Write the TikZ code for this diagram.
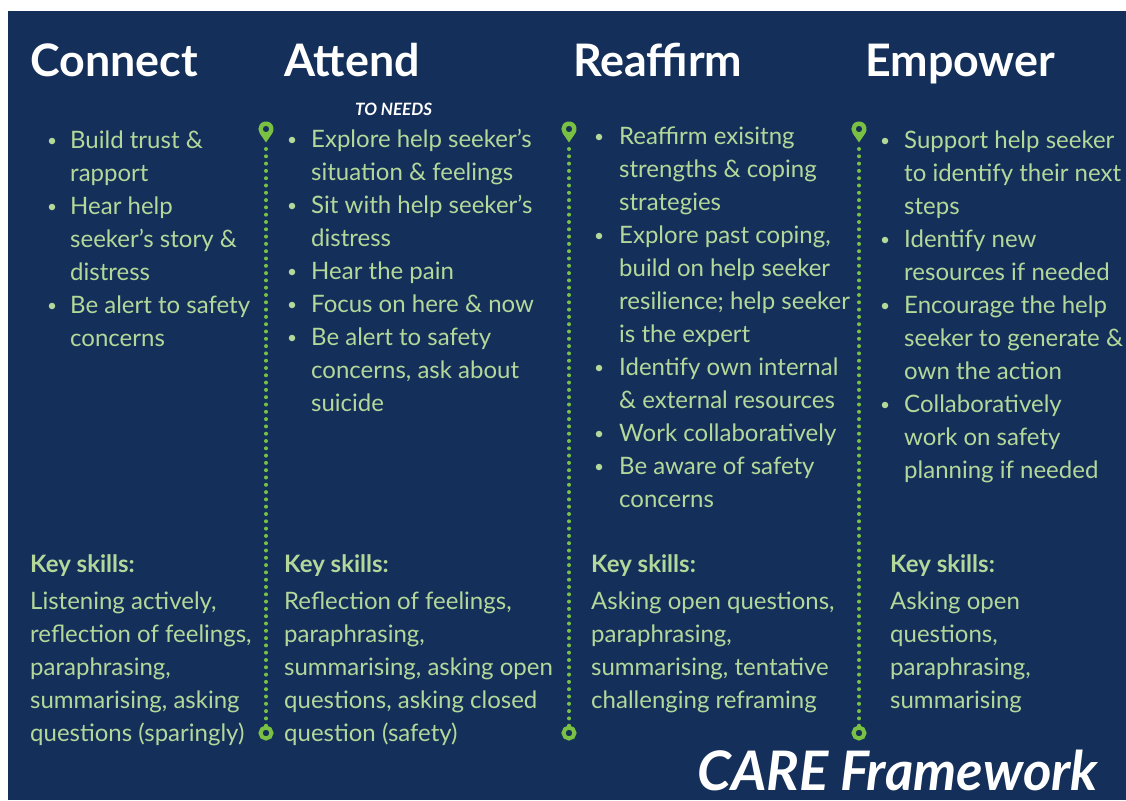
\documentclass[tikz,border=0pt]{standalone}
\usepackage{fontspec}
\setmainfont{Lato}
\definecolor{navy}{HTML}{14305A}
\definecolor{leaf}{HTML}{B3D89A}
\definecolor{sprout}{HTML}{7AC143}
% stacked lines whose reference point is the first baseline
\newcommand{\stackrows}[1]{\begin{tabular}[t]{@{}l@{}}#1\end{tabular}}
\begin{document}
\begin{tikzpicture}[x=1pt,y=-1pt,
  heading/.style={anchor=base west,inner sep=0,text=white,font=\fontsize{44.8}{50}\selectfont\bfseries},
  body/.style={anchor=base west,inner sep=0,text=leaf,font=\fontsize{24}{33}\selectfont},
  keyhead/.style={body,font=\fontsize{24}{33}\selectfont\bfseries},
  dot/.style={circle,fill=leaf,inner sep=0,minimum size=6.5pt},
  dotline/.style={draw=sprout,line width=4pt,line cap=round,dash pattern=on 0pt off 7.3pt},
  ring/.style={circle,draw=sprout,line width=4pt,minimum size=11pt,inner sep=0}]
\useasboundingbox (0,0) rectangle (1126,800);
\fill[white] (0,0) rectangle (1126,800);
\fill[navy] (8,11) rectangle (1126,800);

% column headings
\node[heading] (hC) at (30,76) {Connect};
\node[heading] (hA) at (284,76) {Attend};
\node[heading] (hR) at (573,76) {Reaffirm};
\node[heading] (hE) at (865,76) {Empower};
\node[anchor=base west,inner sep=0,text=white,font=\fontsize{17}{20}\selectfont\bfseries\itshape] (needs) at (355,115) {TO NEEDS};

% bullet lists
\node[body] (lC) at (70,148) {\stackrows{Build trust \&\\rapport\\Hear help\\seeker's story \&\\distress\\Be alert to safety\\concerns}};
\foreach \k in {0,2,5} \node[dot] (bC\k) at (52,148+33*\k-7) {};

\node[body] (lA) at (311,147) {\stackrows{Explore help seeker's\\situation \& feelings\\Sit with help seeker's\\distress\\Hear the pain\\Focus on here \& now\\Be alert to safety\\concerns, ask about\\suicide}};
\foreach \k in {0,2,4,5,6} \node[dot] (bA\k) at (292,147+33*\k-7) {};

\node[body] (lR) at (619,144) {\stackrows{Reaffirm exisitng\\strengths \& coping\\strategies\\Explore past coping,\\build on help seeker\\resilience; help seeker\\is the expert\\Identify own internal\\\& external resources\\Work collaboratively\\Be aware of safety\\concerns}};
\foreach \k in {0,3,7,9,10} \node[dot] (bR\k) at (599,144+33*\k-7) {};

\node[body] (lE) at (904,148) {\stackrows{Support help seeker\\to identify their next\\steps\\Identify new\\resources if needed\\Encourage the help\\seeker to generate \&\\own the action\\Collaboratively\\work on safety\\planning if needed}};
\foreach \k in {0,3,5,8} \node[dot] (bE\k) at (885,148+33*\k-7) {};

% key skills
\node[keyhead] (kC) at (30,572) {Key skills:};
\node[body] (sC) at (30,609) {\stackrows{Listening actively,\\reflection of feelings,\\paraphrasing,\\summarising, asking\\questions (sparingly)}};
\node[keyhead] (kA) at (284,572) {Key skills:};
\node[body] (sA) at (284,609) {\stackrows{Reflection of feelings,\\paraphrasing,\\summarising, asking open\\questions, asking closed\\question (safety)}};
\node[keyhead] (kR) at (591,572) {Key skills:};
\node[body] (sR) at (591,609) {\stackrows{Asking open questions,\\paraphrasing,\\summarising, tentative\\challenging reframing}};
\node[keyhead] (kE) at (890,572) {Key skills:};
\node[body] (sE) at (890,609) {\stackrows{Asking open\\questions,\\paraphrasing,\\summarising}};

% timeline dividers: pin on top, dotted stem, ring at the foot
\foreach \x/\n in {266/1,569/2,859/3}{
  \begin{scope}[shift={(\x,129)},yscale=-1]
    \fill[sprout,even odd rule] (0,-13.5) -- (-34:7.6) arc[start angle=-34,end angle=214,radius=7.6] -- cycle
      (0,0) circle[radius=3.2];
  \end{scope}
  \coordinate (top\n) at (\x,149);
  \node[ring] (foot\n) at (\x,733) {};
  \draw[dotline] (top\n) -- ([yshift=-4pt]foot\n.north);
}

\node[anchor=base west,inner sep=0,text=white,font=\fontsize{54.5}{60}\selectfont\bfseries\itshape] (title) at (697,790) {CARE Framework};
\end{tikzpicture}
\end{document}
